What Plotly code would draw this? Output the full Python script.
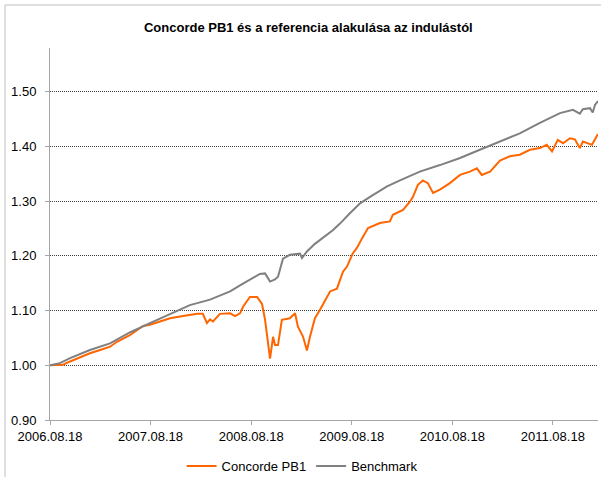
import plotly.graph_objects as go

# Benchmark (gray)
bench_dates = ["2006-08-18", "2006-09-23", "2006-10-30", "2007-01-10", "2007-03-24", "2007-06-04",
               "2007-08-16", "2007-10-28", "2008-01-08", "2008-03-21", "2008-06-02", "2008-07-08",
               "2008-08-17", "2008-09-18", "2008-10-07", "2008-10-25", "2008-11-12", "2008-11-23",
               "2008-12-11", "2009-01-05", "2009-02-11", "2009-02-18", "2009-03-08", "2009-04-06",
               "2009-06-10", "2009-07-06", "2009-08-11", "2009-09-17", "2009-10-23", "2009-12-24",
               "2010-02-09", "2010-04-22", "2010-07-04", "2010-09-15", "2010-11-26", "2011-02-07",
               "2011-04-20", "2011-07-02", "2011-09-13", "2011-10-30", "2011-11-24", "2011-12-05",
               "2011-12-31", "2012-01-10", "2012-01-18", "2012-01-29"]
bench = [1.000, 1.004, 1.013, 1.028, 1.040, 1.060,
         1.077, 1.094, 1.110, 1.120, 1.135, 1.146,
         1.158, 1.167, 1.168, 1.153, 1.157, 1.162,
         1.195, 1.202, 1.204, 1.196, 1.208, 1.222,
         1.247, 1.259, 1.278, 1.296, 1.308, 1.327,
         1.338, 1.354, 1.366, 1.379, 1.394, 1.409,
         1.424, 1.443, 1.461, 1.467, 1.460, 1.468,
         1.470, 1.462, 1.476, 1.483]

# Concorde PB1 (orange)
fund_dates = ["2006-08-18", "2006-10-04", "2006-10-30", "2007-01-10", "2007-02-16", "2007-03-24",
              "2007-04-18", "2007-06-04", "2007-07-22", "2007-08-16", "2007-09-21", "2007-10-28",
              "2007-12-14", "2008-02-03", "2008-02-24", "2008-03-10", "2008-03-21", "2008-04-01",
              "2008-04-26", "2008-06-02", "2008-06-20", "2008-07-08", "2008-07-19", "2008-08-13",
              "2008-09-08", "2008-09-26", "2008-10-07", "2008-10-17", "2008-10-25", "2008-11-05",
              "2008-11-12", "2008-11-23", "2008-12-07", "2009-01-05", "2009-01-24", "2009-02-03",
              "2009-02-22", "2009-03-08", "2009-03-19", "2009-04-06", "2009-04-24", "2009-05-31",
              "2009-06-25", "2009-07-17", "2009-07-31", "2009-08-22", "2009-09-06", "2009-09-24",
              "2009-10-16", "2009-11-28", "2010-01-03", "2010-01-14", "2010-02-20", "2010-03-17",
              "2010-03-28", "2010-04-15", "2010-05-03", "2010-05-21", "2010-06-09", "2010-07-04",
              "2010-08-09", "2010-09-15", "2010-10-21", "2010-11-15", "2010-12-03", "2011-01-02",
              "2011-02-07", "2011-03-15", "2011-04-20", "2011-05-27", "2011-07-02", "2011-07-27",
              "2011-08-15", "2011-09-05", "2011-09-24", "2011-10-19", "2011-11-06", "2011-11-24",
              "2011-12-05", "2012-01-07", "2012-01-25", "2012-01-29"]
fund = [1.000, 1.001, 1.007, 1.022, 1.028, 1.034,
        1.043, 1.055, 1.072, 1.074, 1.080, 1.086,
        1.090, 1.094, 1.094, 1.077, 1.084, 1.080,
        1.094, 1.095, 1.090, 1.095, 1.107, 1.125,
        1.125, 1.112, 1.083, 1.046, 1.012, 1.052,
        1.037, 1.037, 1.083, 1.086, 1.095, 1.071,
        1.052, 1.027, 1.052, 1.086, 1.101, 1.135,
        1.140, 1.171, 1.180, 1.205, 1.215, 1.232,
        1.251, 1.260, 1.263, 1.275, 1.284, 1.299,
        1.308, 1.330, 1.338, 1.333, 1.315, 1.321,
        1.333, 1.348, 1.354, 1.360, 1.348, 1.354,
        1.374, 1.382, 1.385, 1.394, 1.397, 1.403,
        1.391, 1.412, 1.406, 1.415, 1.413, 1.397,
        1.409, 1.403, 1.421, 1.423]

tick_dates = ["2006-08-18", "2007-08-18", "2008-08-18", "2009-08-18", "2010-08-18", "2011-08-18"]
tick_text = ["2006.08.18", "2007.08.18", "2008.08.18", "2009.08.18", "2010.08.18", "2011.08.18"]
y_ticks = [0.90, 1.00, 1.10, 1.20, 1.30, 1.40, 1.50]

fig = go.Figure()
fig.add_trace(go.Scatter(x=fund_dates, y=fund, mode="lines", name="Concorde PB1",
                         line=dict(color="#FF6600", width=2)))
fig.add_trace(go.Scatter(x=bench_dates, y=bench, mode="lines", name="Benchmark",
                         line=dict(color="#808080", width=2)))

font_main = "Liberation Sans, Arial, sans-serif"

fig.update_layout(
    width=601, height=477,
    margin=dict(l=50, r=3, t=48, b=57, autoexpand=False),
    paper_bgcolor="white", plot_bgcolor="white",
    title=dict(text="<b>Concorde PB1 és a referencia alakulása az indulástól</b>",
               x=0.513, xanchor="center", xref="container",
               y=1 - 27 / 477, yanchor="middle", yref="container",
               font=dict(family=font_main, size=13, color="#000")),
    showlegend=True,
    legend=dict(orientation="h", x=0.46, xanchor="center", y=(420 - 466) / 372, yanchor="middle",
                font=dict(family=font_main, size=13, color="#000"), itemwidth=30,
                bgcolor="rgba(0,0,0,0)", traceorder="normal"),
    xaxis=dict(type="date", range=["2006-08-18", "2012-01-29"],
               tickvals=tick_dates, ticktext=tick_text, automargin=False,
               showgrid=False, zeroline=False,
               showline=True, linecolor="#A6A6A6", linewidth=1,
               ticks="outside", ticklen=4, tickcolor="#A6A6A6",
               tickfont=dict(family=font_main, size=13, color="#000")),
    yaxis=dict(range=[0.9, 1.58], tickvals=y_ticks, tickformat=".2f", automargin=False,
               showgrid=True, gridcolor="#404040", griddash="1px,1px", gridwidth=1,
               zeroline=False,
               showline=True, linecolor="#A6A6A6", linewidth=1,
               ticks="outside", ticklen=4, tickcolor="#A6A6A6", ticklabelstandoff=6,
               tickfont=dict(family=font_main, size=13, color="#000")),
)

# outer chart frame (top and left edges visible)
fig.add_shape(type="line", xref="paper", yref="paper",
              x0=(5 - 50) / 548, x1=1.01, y0=(420 - 5) / 372, y1=(420 - 5) / 372,
              line=dict(color="#BFBFBF", width=1))
fig.add_shape(type="line", xref="paper", yref="paper",
              x0=(5 - 50) / 548, x1=(5 - 50) / 548, y0=(420 - 5) / 372, y1=-0.2,
              line=dict(color="#BFBFBF", width=1))

fig.write_html("out.html", config={"displayModeBar": False},
               post_script="document.body.style.margin='0';")
